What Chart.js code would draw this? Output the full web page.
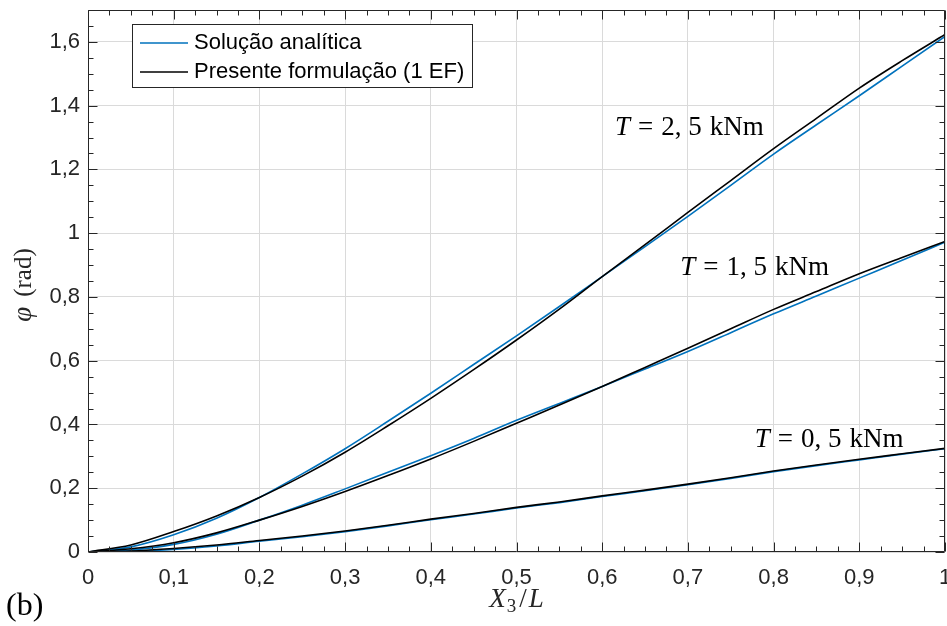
<!DOCTYPE html>
<html>
<head>
<meta charset="utf-8">
<script src="https://cdn.jsdelivr.net/npm/chart.js@4.4.1/dist/chart.umd.min.js"></script>
<style>
  html, body { margin: 0; padding: 0; background: #fff; }
  #wrap { width: 947px; height: 626px; }
</style>
</head>
<body>
<div id="wrap"><canvas id="mychart"></canvas></div>
<script>
// X3/L positions along the bar
const xs = [0, 0.05, 0.1, 0.15, 0.2, 0.25, 0.3, 0.35, 0.4, 0.45, 0.5, 0.55, 0.6, 0.65, 0.7, 0.75, 0.8, 0.85, 0.9, 0.95, 1.0];

// twist angle phi (rad), analytic solution
const anaT05 = [0, 0.002, 0.008, 0.019, 0.034, 0.048, 0.064, 0.082, 0.101, 0.119, 0.138, 0.155, 0.174, 0.192, 0.211, 0.231, 0.252, 0.271, 0.289, 0.307, 0.324];
const anaT15 = [0, 0.006, 0.024, 0.056, 0.100, 0.147, 0.198, 0.250, 0.302, 0.356, 0.413, 0.466, 0.519, 0.574, 0.629, 0.688, 0.747, 0.803, 0.859, 0.915, 0.972];
const anaT25 = [0, 0.016, 0.054, 0.106, 0.171, 0.245, 0.324, 0.410, 0.498, 0.588, 0.678, 0.770, 0.864, 0.958, 1.053, 1.150, 1.248, 1.340, 1.431, 1.524, 1.617];

// present formulation (1 EF)
const forT05 = [0, 0.003, 0.011, 0.022, 0.036, 0.050, 0.066, 0.084, 0.103, 0.121, 0.140, 0.157, 0.176, 0.194, 0.213, 0.233, 0.254, 0.273, 0.291, 0.308, 0.325];
const forT15 = [0, 0.010, 0.029, 0.060, 0.100, 0.143, 0.190, 0.240, 0.292, 0.347, 0.404, 0.461, 0.519, 0.579, 0.639, 0.700, 0.761, 0.817, 0.873, 0.924, 0.974];
const forT25 = [0, 0.022, 0.064, 0.113, 0.171, 0.238, 0.313, 0.396, 0.482, 0.572, 0.665, 0.762, 0.864, 0.964, 1.065, 1.165, 1.265, 1.360, 1.455, 1.541, 1.623];

const xTicks = [0, 0.1, 0.2, 0.3, 0.4, 0.5, 0.6, 0.7, 0.8, 0.9, 1];
const yTicks = [0, 0.2, 0.4, 0.6, 0.8, 1, 1.2, 1.4, 1.6];

const labelAna = 'Solução analítica';
const labelFor = 'Presente formulação (1 EF)';
const blue = '#0072BD';
const black = '#000000';
const axisColor = '#262626';

// curve labels: [T value text, x, y] placed in data units
const curveLabels = [
    ['2, 5', 0.615, 1.309],
    ['1, 5', 0.691, 0.869],
    ['0, 5', 0.778, 0.330]
];

const pts = (ys) => xs.map((x, i) => ({ x: x, y: ys[i] }));
const fmt = (v) => String(Math.round(v * 10) / 10).replace('.', ',');

function series(label, ys, color, order) {
    return {
        label: label,
        data: pts(ys),
        borderColor: color,
        backgroundColor: color,
        borderWidth: 1.6,
        pointRadius: 0,
        fill: false,
        cubicInterpolationMode: 'monotone',
        order: order
    };
}

// draws runs of text with different fonts, left to right
function drawRuns(ctx, runs, x, y) {
    let cx = x;
    runs.forEach(r => {
        ctx.font = r.f;
        ctx.fillText(r.t, cx, y + (r.dy || 0));
        cx += ctx.measureText(r.t).width + (r.gap || 0);
    });
}
function runsWidth(ctx, runs) {
    let w = 0;
    runs.forEach(r => { ctx.font = r.f; w += ctx.measureText(r.t).width + (r.gap || 0); });
    return w;
}

const serif = 'Liberation Serif';
const sans = 'Liberation Sans';

const decor = {
    id: 'decor',
    afterDraw(chart) {
        const { ctx, chartArea: a, scales: { x, y } } = chart;
        ctx.save();
        ctx.strokeStyle = axisColor;
        ctx.lineWidth = 1;
        const L = Math.round(a.left) + 0.5, R = Math.round(a.right) - 0.5;
        const T = Math.round(a.top) + 0.5, B = Math.round(a.bottom) - 0.5;
        ctx.beginPath();
        ctx.rect(L, T, R - L, B - T);
        // x ticks, inward on bottom and top
        for (let i = 0; i <= 40; i++) {
            const px = Math.round(x.getPixelForValue(i / 40)) + 0.5;
            const len = i % 4 === 0 ? 9 : 5;
            ctx.moveTo(px, B); ctx.lineTo(px, B - len);
            ctx.moveTo(px, T); ctx.lineTo(px, T + len);
        }
        // y ticks, inward on left and right
        for (let i = 0; i <= 34; i++) {
            const py = Math.round(y.getPixelForValue(i * 0.05)) + 0.5;
            const len = i % 4 === 0 ? 9 : 5;
            ctx.moveTo(L, py); ctx.lineTo(L + len, py);
            ctx.moveTo(R, py); ctx.lineTo(R - len, py);
        }
        ctx.stroke();

        // legend box
        const items = [[labelAna, blue], [labelFor, black]];
        const lx = 132, ly = 24, lw = 340, lh = 63;
        ctx.fillStyle = '#fff';
        ctx.fillRect(lx, ly, lw, lh);
        ctx.strokeStyle = axisColor;
        ctx.strokeRect(lx + 0.5, ly + 0.5, lw, lh);
        ctx.font = '22px "' + sans + '"';
        ctx.textBaseline = 'middle';
        ctx.textAlign = 'left';
        items.forEach((it, i) => {
            const ry = ly + 19 + i * 29;
            ctx.strokeStyle = it[1];
            ctx.lineWidth = 1.6;
            ctx.beginPath();
            ctx.moveTo(lx + 8, ry); ctx.lineTo(lx + 56, ry);
            ctx.stroke();
            ctx.fillStyle = '#000';
            ctx.fillText(it[0], lx + 62, ry);
        });

        // curve labels
        ctx.fillStyle = '#000';
        ctx.textBaseline = 'alphabetic';
        curveLabels.forEach(c => {
            drawRuns(ctx, [
                { t: 'T', f: 'italic 27px "' + serif + '"', gap: 8 },
                { t: '=', f: '27px "' + serif + '"', gap: 8 },
                { t: c[0], f: '27px "' + serif + '"', gap: 8 },
                { t: 'kNm', f: '27px "' + serif + '"' }
            ], x.getPixelForValue(c[1]), y.getPixelForValue(c[2]));
        });

        // x axis title
        const xt = [
            { t: 'X', f: 'italic 27px "' + serif + '"', gap: 1 },
            { t: '3', f: '19px "' + serif + '"', dy: 5, gap: 3 },
            { t: '/', f: '27px "' + serif + '"', gap: 2 },
            { t: 'L', f: 'italic 27px "' + serif + '"' }
        ];
        const xw = runsWidth(ctx, xt);
        ctx.fillStyle = axisColor;
        drawRuns(ctx, xt, (a.left + a.right) / 2 - xw / 2, 607);

        // y axis title
        const yt = [
            { t: 'φ', f: 'italic 27px "' + serif + '"', gap: 10 },
            { t: '(rad)', f: '25px "' + serif + '"' }
        ];
        const yw = runsWidth(ctx, yt);
        ctx.save();
        ctx.translate(31, 285);
        ctx.rotate(-Math.PI / 2);
        drawRuns(ctx, yt, -yw / 2, 0);
        ctx.restore();

        // panel tag
        ctx.fillStyle = '#000';
        ctx.font = '32px "' + serif + '"';
        ctx.fillText('(b)', 6, 615);
        ctx.restore();
    }
};

const ctx = document.getElementById('mychart');
const chart = new Chart(ctx, {
    type: 'line',
    data: {
        datasets: [
            series(labelFor, forT05, black, 1),
            series(labelFor, forT15, black, 1),
            series(labelFor, forT25, black, 1),
            series(labelAna, anaT05, blue, 2),
            series(labelAna, anaT15, blue, 2),
            series(labelAna, anaT25, blue, 2)
        ]
    },
    options: {
        responsive: true,
        maintainAspectRatio: false,
        animation: false,
        devicePixelRatio: 1,
        layout: { padding: { top: 10, right: 2, left: 0, bottom: 0 } },
        plugins: { legend: { display: false }, tooltip: { enabled: false } },
        scales: {
            x: {
                type: 'linear',
                min: 0,
                max: 1,
                afterBuildTicks: (s) => { s.ticks = xTicks.map(v => ({ value: v })); },
                afterFit: (s) => { s.height = 74; s.paddingLeft = 0; s.paddingRight = 0; },
                grid: { color: '#dadada', drawTicks: false },
                border: { display: false },
                ticks: {
                    padding: 13,
                    color: axisColor,
                    maxRotation: 0,
                    font: { family: sans, size: 22 },
                    callback: (v) => fmt(v)
                }
            },
            y: {
                type: 'linear',
                min: 0,
                max: 1.7,
                afterBuildTicks: (s) => { s.ticks = yTicks.map(v => ({ value: v })); },
                afterFit: (s) => { s.width = 88; s.paddingTop = 0; s.paddingBottom = 0; },
                grid: { color: '#dadada', drawTicks: false },
                border: { display: false },
                ticks: {
                    padding: 8,
                    color: axisColor,
                    font: { family: sans, size: 22 },
                    callback: (v) => fmt(v)
                }
            }
        }
    },
    plugins: [decor]
});
</script>
</body>
</html>
